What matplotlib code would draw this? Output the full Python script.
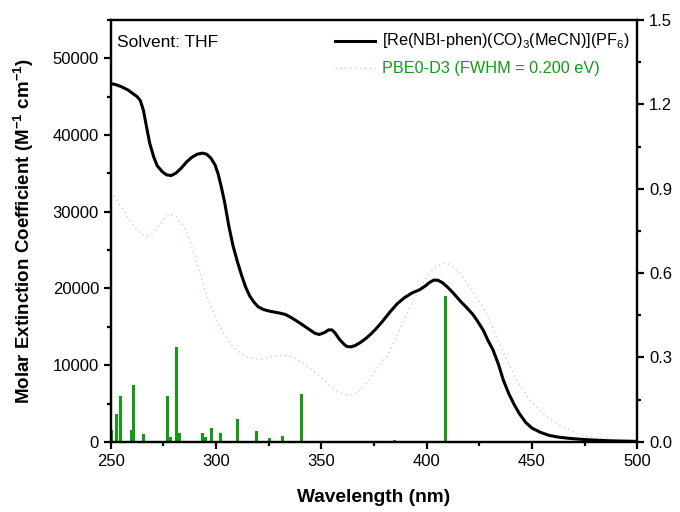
import matplotlib
matplotlib.use('Agg')
import matplotlib.pyplot as plt
from matplotlib.ticker import MultipleLocator, FormatStrFormatter

plt.rcParams['font.family'] = ['Liberation Sans', 'DejaVu Sans']
plt.rcParams['mathtext.fontset'] = 'custom'
plt.rcParams['mathtext.rm'] = 'Liberation Sans'
plt.rcParams['mathtext.it'] = 'Liberation Sans:italic'
plt.rcParams['mathtext.bf'] = 'Liberation Sans:bold'

# experimental absorption spectrum (nm, M-1 cm-1)
exp_wl = [250, 252, 255, 258, 260, 262.5, 264, 265.5, 267, 268.5, 270.3, 272, 274.5,
          276.5, 278.7, 281, 283.5, 286, 288.5, 291, 293.5, 295.5, 297.5, 299.5, 301,
          302.5, 304, 306, 308, 310, 312, 314, 316, 318, 320, 322.5, 326, 330, 333,
          336, 340, 344, 347, 349, 351.5, 353.5, 355, 356.5, 358.5, 360.5, 362, 364,
          366, 368.5, 371, 373.5, 376, 379, 382.5, 386, 389.5, 393, 396.8, 399.5,
          401.5, 403.5, 405.5, 407.5, 410, 413, 416, 419, 422, 424.5, 427, 429, 431.5,
          434, 436.5, 439, 441.5, 444, 447, 450, 454, 458, 463, 468, 473, 480, 488, 500]
exp_eps = [46700, 46600, 46300, 45900, 45500, 45000, 44500, 43200, 41000, 38900,
           37200, 36000, 35200, 34800, 34720, 35050, 35700, 36500, 37100, 37500,
           37640, 37500, 37000, 36100, 34900, 33200, 31300, 28200, 25600, 23600,
           21800, 20200, 19000, 18200, 17600, 17250, 17000, 16800, 16600, 16150,
           15450, 14700, 14150, 14000, 14250, 14600, 14600, 14200, 13400, 12800,
           12450, 12380, 12550, 12950, 13450, 14050, 14750, 15700, 16900, 18000,
           18800, 19400, 19850, 20350, 20800, 21100, 21050, 20750, 20150, 19300,
           18350, 17500, 16600, 15600, 14500, 13300, 12000, 10200, 8000, 6300, 4900,
           3700, 2550, 1800, 1250, 850, 600, 450, 340, 220, 130, 60]

# broadened TD-DFT spectrum
calc_wl = [250, 252, 255, 258, 261, 264, 267, 270, 273, 276, 278.5, 281, 283.5, 286,
           288, 290, 292.5, 295, 297.5, 300, 302.5, 305, 308, 311, 314, 317, 320, 323,
           326, 329, 332, 335, 338, 341, 344, 347, 350, 353, 356, 359, 362, 364.5, 367,
           370, 373, 376, 379, 381, 384, 387, 390, 393, 396, 399, 402, 405, 408, 410.5,
           413, 416, 419, 422, 425, 427, 430, 433, 436, 439, 442, 445, 449, 453, 457,
           461, 466, 471, 477, 482, 488, 500]
calc_eps = [32600, 31900, 30600, 29300, 28100, 27200, 26800, 27200, 28200, 29300,
            29700, 29400, 28500, 27300, 25900, 24000, 21800, 19500, 17600, 16100,
            14700, 13500, 12400, 11700, 11200, 10900, 10780, 10850, 11050, 11250,
            11300, 11150, 10800, 10300, 9700, 9050, 8350, 7600, 6900, 6400, 6150, 6120,
            6400, 7200, 8200, 9400, 10500, 11120, 12700, 14500, 16300, 18000, 19600,
            21000, 22200, 22900, 23300, 23200, 22700, 21900, 20800, 19500, 18300,
            17500, 15700, 13800, 11900, 10100, 8500, 7100, 5500, 4300, 3300, 2500,
            1800, 1100, 690, 450, 330, 150]

# oscillator strengths of the computed transitions
stick_wl = [250.2, 252.8, 254.5, 259.7, 260.8, 265.6, 270.3, 276.9, 278.2, 281.4,
            282.6, 285.3, 293.7, 295.0, 297.8, 302.3, 310.2, 319.3, 325.2, 331.5,
            340.5, 345.6, 349.4, 354.5, 373.9, 384.6, 409.0]
stick_f = [0.041, 0.099, 0.164, 0.042, 0.201, 0.027, 0.003, 0.162, 0.019, 0.337,
           0.031, 0.003, 0.032, 0.019, 0.049, 0.030, 0.081, 0.039, 0.015, 0.022,
           0.171, 0.002, 0.002, 0.004, 0.002, 0.005, 0.519]

green = '#139c13'

fig = plt.figure(figsize=(6.8, 5.12), dpi=100)
ax = fig.add_axes([0.163, 0.137, 0.774, 0.824])
ax2 = ax.twinx()

ax2.bar(stick_wl, stick_f, width=1.4, color=green, edgecolor='none', zorder=1)
ax.plot(exp_wl, exp_eps, color='black', lw=2.2, zorder=3, solid_joinstyle='round',
        label='$\\left[\\mathrm{Re(NBI\u2010phen)(CO)_3(MeCN)}\\right]\\left(\\mathrm{PF_6}\\right)$')
ax.plot(calc_wl, calc_eps, color='#b4dfb4', lw=1.0, linestyle=(0, (1, 2.5)), zorder=2,
        label='PBE0-D3 (FWHM = 0.200 eV)')

ax.set_zorder(ax2.get_zorder() + 1)
ax.patch.set_visible(False)

ax.set_xlim(250, 500)
ax.set_ylim(0, 55000)
ax2.set_ylim(0, 1.5)

ax.xaxis.set_major_locator(MultipleLocator(50))
ax.xaxis.set_minor_locator(MultipleLocator(25))
ax.yaxis.set_major_locator(MultipleLocator(10000))
ax.yaxis.set_minor_locator(MultipleLocator(5000))
ax2.yaxis.set_major_locator(MultipleLocator(0.3))
ax2.yaxis.set_minor_locator(MultipleLocator(0.15))
ax2.yaxis.set_major_formatter(FormatStrFormatter('%.1f'))

for a in (ax, ax2):
    for s in a.spines.values():
        s.set_linewidth(1.6)
    a.tick_params(which='major', direction='out', length=5, width=1.6, labelsize=12)
    a.tick_params(which='minor', direction='out', length=3, width=1.6)
ax.tick_params(top=False, right=False)
ax.tick_params(which='minor', top=False, right=False)

ax.set_xlabel('Wavelength (nm)', fontsize=13.8, fontweight='bold', labelpad=15)
ax.set_ylabel(r'Molar Extinction Coefficient (M$^{\mathbf{-1}}$ cm$^{\mathbf{-1}}$)',
              fontsize=13.5, fontweight='bold', labelpad=12)

ax.text(0.012, 0.947, 'Solvent: THF', transform=ax.transAxes, fontsize=12.5,
        ha='left', va='center')

leg = ax.legend(loc='upper right', frameon=False, fontsize=11.7, handlelength=2.46,
                handletextpad=0.43, labelspacing=0.6, borderaxespad=0.35,
                bbox_to_anchor=(1.008, 1.0))
leg.get_texts()[1].set_color(green)

fig.savefig('out.png', dpi=100)
